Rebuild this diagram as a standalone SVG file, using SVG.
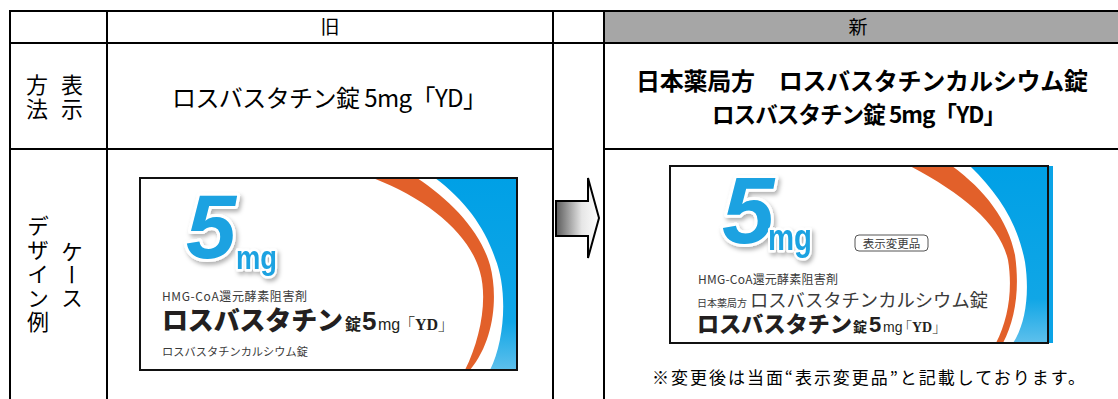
<svg xmlns="http://www.w3.org/2000/svg" width="1118" height="399" viewBox="0 0 1118 399">
<style>
.jp{font-family:"Noto Sans CJK JP","Liberation Sans",sans-serif;fill:#000}
.ln{stroke:#000;stroke-width:2;fill:none}
.vt{writing-mode:vertical-rl;font-family:"Noto Sans CJK JP",sans-serif;font-size:22px;fill:#000}
.big5{font-family:"Liberation Sans",sans-serif;font-weight:bold;font-style:italic;fill:#1aa2e1;stroke:#fff;stroke-width:6;stroke-linejoin:round;paint-order:stroke}
.mg{font-family:"Liberation Sans",sans-serif;font-weight:bold;fill:#1aa2e1;stroke:#fff;stroke-width:5;stroke-linejoin:round;paint-order:stroke}
.pk{font-family:"Noto Sans CJK JP",sans-serif;fill:#3a3a3a}
.pkb{font-family:"Noto Sans CJK JP",sans-serif;font-weight:900;fill:#231f20}
.ser{font-family:"Liberation Serif","Noto Serif CJK JP","Noto Sans CJK JP",serif;font-weight:bold}
.orange{fill:#e2602a}
.frame{fill:none;stroke:#111;stroke-width:2}
</style>
<defs>
<linearGradient id="blueG" x1="0" y1="0" x2="0" y2="1">
<stop offset="0" stop-color="#00a0e6"/><stop offset="0.75" stop-color="#10a6e6"/><stop offset="1" stop-color="#5ec0ec"/>
</linearGradient>
<linearGradient id="arrowG" x1="0" y1="0" x2="1" y2="0">
<stop offset="0" stop-color="#5a5a5a"/><stop offset="0.6" stop-color="#e6e6e6"/><stop offset="1" stop-color="#ffffff"/>
</linearGradient>
<filter id="sh" x="-20%" y="-20%" width="150%" height="150%">
<feDropShadow dx="2" dy="3" stdDeviation="2" flood-color="#000" flood-opacity="0.3"/>
</filter>
<clipPath id="cOld"><rect x="140" y="178" width="377" height="192"/></clipPath>
<clipPath id="cNew"><rect x="670" y="166" width="378" height="177"/></clipPath>
</defs>

<rect width="1118" height="399" fill="#fff"/>

<g id="table">
<rect x="604" y="11" width="514" height="32" fill="#a6a6a6"/>
<line class="ln" x1="9" y1="11" x2="1118" y2="11"/>
<line class="ln" x1="9" y1="43" x2="1118" y2="43"/>
<line class="ln" x1="9" y1="149" x2="553" y2="149"/>
<line class="ln" x1="604" y1="149" x2="1118" y2="149"/>
<line class="ln" x1="10" y1="10" x2="10" y2="399"/>
<line class="ln" x1="107" y1="10" x2="107" y2="399"/>
<line class="ln" x1="553" y1="10" x2="553" y2="399"/>
<line class="ln" x1="604" y1="10" x2="604" y2="399"/>
</g>

<g id="header-old"><text class="jp" x="330" y="34" font-size="19" text-anchor="middle">旧</text></g>
<g id="header-new"><text class="jp" x="858" y="34" font-size="19" text-anchor="middle">新</text></g>

<g id="label-method">
<text class="vt" x="72" y="74" letter-spacing="2">表示</text>
<text class="vt" x="37" y="74" letter-spacing="2">方法</text>
</g>
<g id="label-case">
<text class="vt" x="72" y="241" letter-spacing="1">ケース</text>
<text class="vt" x="38" y="215" letter-spacing="2">デザイン例</text>
</g>

<g id="name-old">
<text class="jp" x="172" y="107" font-size="24" textLength="315" lengthAdjust="spacing">ロスバスタチン錠 5mg「YD」</text>
</g>
<g id="name-new">
<text class="jp" x="636" y="90" font-size="24" font-weight="bold" textLength="452" lengthAdjust="spacing">日本薬局方　ロスバスタチンカルシウム錠</text>
<text class="jp" x="712" y="123" font-size="22.5" font-weight="bold" textLength="294" lengthAdjust="spacing">ロスバスタチン錠 5mg「YD」</text>
</g>

<g id="connectors">
<polygon points="556,201 588,201 588,178 599,218 588,258 588,236 556,236" fill="url(#arrowG)" stroke="#000" stroke-width="2" stroke-linejoin="miter"/>
</g>

<g id="pkg-old">
<g clip-path="url(#cOld)">
<rect x="140" y="178" width="377" height="192" fill="#fff"/>
<path d="M435,178 L517,178 L517,370 L490,370 C505,340 508,290 495,258 C485,228 465,200 435,178 Z" fill="url(#blueG)"/>
<path class="orange" d="M373,178 L417,178 C450,200 480,230 490,265 C498,295 495,340 470,370 L465,370 C480,340 488,300 480,272 C470,235 430,200 373,178 Z"/>
</g>
<g filter="url(#sh)">
<text class="big5" x="186" y="258" font-size="90">5</text>
<text class="mg" x="236" y="269" font-size="34" textLength="41" lengthAdjust="spacingAndGlyphs">mg</text>
</g>
<text class="pk" x="162" y="301" font-size="12" textLength="145" lengthAdjust="spacing">HMG-CoA還元酵素阻害剤</text>
<text class="pkb" y="330"><tspan x="162" font-size="26" textLength="181" lengthAdjust="spacing">ロスバスタチン</tspan><tspan x="345" font-size="16" font-weight="bold">錠</tspan><tspan x="362" font-size="26" font-family="Liberation Sans" font-weight="bold">5</tspan><tspan x="378" font-size="16" font-family="Liberation Sans" font-weight="normal">mg</tspan><tspan class="ser" x="399" font-size="16">「YD」</tspan></text>
<text class="pk" x="162" y="356" font-size="11.2" textLength="146" lengthAdjust="spacing">ロスバスタチンカルシウム錠</text>
<rect class="frame" x="140" y="178" width="377" height="192"/>
</g>

<g id="pkg-new">
<rect x="1048" y="166" width="5" height="177" fill="#0aa3e6"/>
<g clip-path="url(#cNew)">
<rect x="670" y="166" width="378" height="177" fill="#fff"/>
<path d="M970,166 L1048,166 L1048,343 L1013,343 C1025,325 1030,295 1025,262 C1018,225 1000,195 970,166 Z" fill="url(#blueG)"/>
<path class="orange" d="M910,166 L952,166 C985,190 1008,220 1015,255 C1020,290 1015,320 1003,343 L996,343 C1008,320 1013,290 1008,260 C1000,225 965,195 910,166 Z"/>
</g>
<g filter="url(#sh)">
<text class="big5" x="722" y="243" font-size="94">5</text>
<text class="mg" x="768" y="250" font-size="37" textLength="44" lengthAdjust="spacingAndGlyphs">mg</text>
</g>
<rect x="855" y="235" width="73" height="16" rx="4" fill="#fff" stroke="#555" stroke-width="1"/>
<text class="pk" x="891.5" y="247.5" font-size="11.5" text-anchor="middle">表示変更品</text>
<text class="pk" x="698" y="284" font-size="12" textLength="140" lengthAdjust="spacing">HMG-CoA還元酵素阻害剤</text>
<text class="pk" x="697" y="307" font-size="10">日本薬局方</text>
<text class="pk" x="750" y="307" font-size="18.3" textLength="238" lengthAdjust="spacing">ロスバスタチンカルシウム錠</text>
<text class="pkb" y="332"><tspan x="697" font-size="22" textLength="155" lengthAdjust="spacing">ロスバスタチン</tspan><tspan x="853" font-size="14" font-weight="bold">錠</tspan><tspan x="869" font-size="22" font-family="Liberation Sans" font-weight="bold">5</tspan><tspan x="883" font-size="14" font-family="Liberation Sans" font-weight="normal">mg</tspan><tspan class="ser" x="898" font-size="14">「YD」</tspan></text>
<rect class="frame" x="670" y="166" width="378" height="177"/>
</g>

<g id="caption">
<text class="jp" x="652" y="384" font-size="17" textLength="433" lengthAdjust="spacing">※変更後は当面“表示変更品”と記載しております。</text>
</g>
</svg>
